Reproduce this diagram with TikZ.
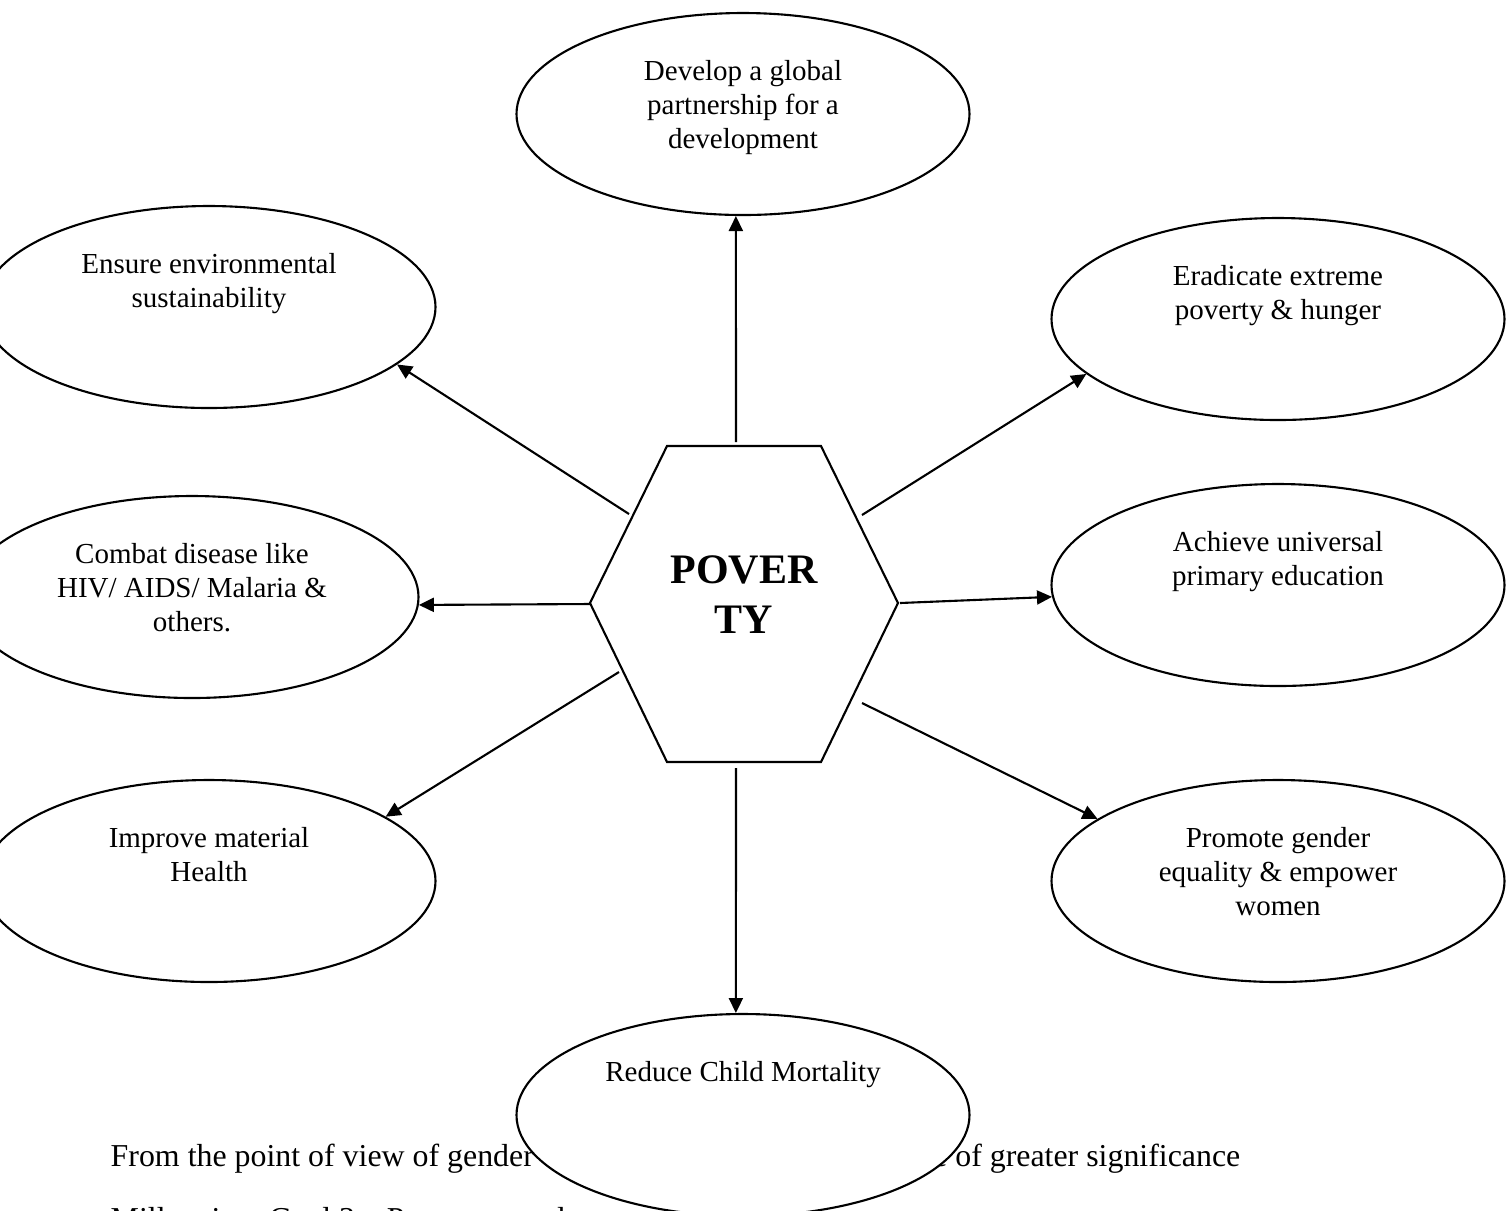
\documentclass[tikz,border=0pt]{standalone}
\usepackage{fontspec}
\setmainfont{Liberation Serif}
\usetikzlibrary{shapes.geometric,arrows.meta,positioning}

\begin{document}
\begin{tikzpicture}[x=0.1mm, y=-0.1mm,
    goal/.style={draw, ellipse, fill=white, line width=0.6pt, minimum width=45.3mm, minimum height=20.2mm, inner sep=0pt},
    goaltext/.style={inner sep=0pt, align=center, font=\fontsize{8.25}{9.67}\selectfont},
    bodytext/.style={inner sep=0pt, font=\fontsize{9.07}{10.9}\selectfont},
    link/.style={line width=0.6pt, -{Triangle[length=1.5mm, width=1.4mm]}}]
  \useasboundingbox (0,0) rectangle (1511,1210);

  % centre
  \draw[line width=0.6pt] (667,446) -- (821,446) -- (898,603) -- (821,762) -- (667,762) -- (590,603) -- cycle;
  \node[inner sep=0pt, align=center, anchor=north, font=\bfseries\fontsize{11.95}{14.2}\selectfont] (poverty) at (744,555) {POVER\\TY};

  % text under the picture
  \node[bodytext, anchor=base west] (viewtext) at (110,1166) {From the point of view of gender};
  \node[bodytext, anchor=base east] (signiftext) at (1241,1166) {e of greater significance};
  \node[bodytext, anchor=base west] (goaltitle) at (110,1229) {Millennium Goal 3 -- Promote gender};

  % goals
  \node[goal] (develop) at (743,114) {};
  \node[goal] (eradicate) at (1278,319) {};
  \node[goal] (achieve) at (1278,585) {};
  \node[goal] (promote) at (1278,881) {};
  \node[goal] (reduce) at (743,1115) {};
  \node[goal] (improve) at (209,881) {};
  \node[goal] (combat) at (192,597) {};
  \node[goal] (ensure) at (209,307) {};

  \node[goaltext, below=4.8mm of develop.north] {Develop a global\\partnership for a\\development};
  \node[goaltext, below=4.8mm of eradicate.north] {Eradicate extreme\\poverty \& hunger};
  \node[goaltext, below=4.8mm of achieve.north] {Achieve universal\\primary education};
  \node[goaltext, below=4.8mm of promote.north] {Promote gender\\equality \& empower\\women};
  \node[goaltext, below=4.8mm of reduce.north] {Reduce Child Mortality};
  \node[goaltext, below=4.8mm of improve.north] {Improve material\\Health};
  \node[goaltext, below=4.8mm of combat.north] {Combat disease like\\HIV/ AIDS/ Malaria \&\\others.};
  \node[goaltext, below=4.8mm of ensure.north] {Ensure environmental\\sustainability};

  % arrows
  \coordinate (pn) at (736,442);
  \coordinate (pne) at (862,515);
  \coordinate (pe) at (900,603);
  \coordinate (pse) at (862,703);
  \coordinate (ps) at (736,768);
  \coordinate (psw) at (619,672);
  \coordinate (pw) at (590,604);
  \coordinate (pnw) at (629,514);

  \draw[link] (pn) -- (develop.266);
  \draw[link] (pne) -- (eradicate.196.5);
  \draw[link] (pe) -- (achieve.183);
  \draw[link] (pse) -- (promote.161);
  \draw[link] (ps) -- (reduce.94);
  \draw[link] (psw) -- (improve.20);
  \draw[link] (pw) -- (combat.358);
  \draw[link] (pnw) -- (ensure.343);
\end{tikzpicture}
\end{document}
